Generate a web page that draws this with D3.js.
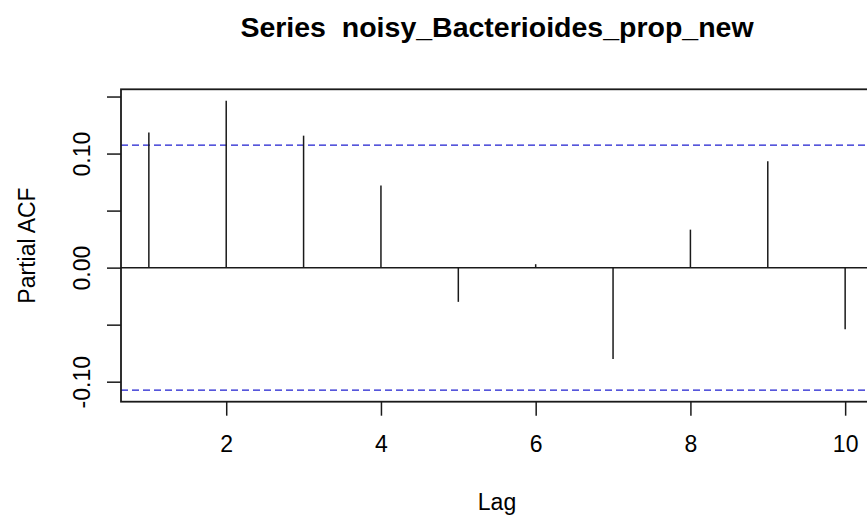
<!DOCTYPE html>
<html>
<head>
<meta charset="utf-8">
<script src="https://cdn.jsdelivr.net/npm/d3@7"></script>
<style>
  html, body { margin: 0; padding: 0; background: #fff; }
  svg { display: block; }
  text { font-family: "Liberation Sans", Arial, Helvetica, sans-serif; fill: #000; }
</style>
</head>
<body>
<svg id="chart" width="867" height="517"></svg>
<script>
// ---- data ----
const lags = [1, 2, 3, 4, 5, 6, 7, 8, 9, 10];
const pacfValues = [0.1185, 0.1462, 0.1157, 0.0720, -0.0300, 0.0030, -0.0802, 0.0333, 0.0933, -0.0540];
const ciLimit = 0.1074;
const xTickValues = [2, 4, 6, 8, 10];
const yTickValues = [-0.10, -0.05, 0.00, 0.05, 0.10, 0.15];
const yTickLabels = ["-0.10", "", "0.00", "", "0.10", ""];
const titleText = "Series  noisy_Bacterioides_prop_new";
const xLabel = "Lag";
const yLabel = "Partial ACF";

// ---- layout ----
const W = 867, H = 517;
const plot = { left: 121, right: 873, top: 89.3, bottom: 401.7 };

const svg = d3.select("#chart");

// domains extended by 4% like R
const xmin = d3.min(lags), xmax = d3.max(lags);
const xpad = (xmax - xmin) * 0.04;
const yAll = pacfValues.concat([ciLimit, -ciLimit]);
const ymin = d3.min(yAll), ymax = d3.max(yAll);
const ypad = (ymax - ymin) * 0.04;

const x = d3.scaleLinear().domain([xmin - xpad, xmax + xpad]).range([plot.left, plot.right]);
const y = d3.scaleLinear().domain([ymin - ypad, ymax + ypad]).range([plot.bottom, plot.top]);

const ink = "#1a1a1a";

// zero line
svg.append("line")
  .attr("x1", plot.left).attr("x2", plot.right)
  .attr("y1", y(0)).attr("y2", y(0))
  .attr("stroke", ink).attr("stroke-width", 1.5);

// confidence lines
[ciLimit, -ciLimit].forEach(v => {
  svg.append("line")
    .attr("x1", plot.left).attr("x2", plot.right)
    .attr("y1", y(v)).attr("y2", y(v))
    .attr("stroke", "#1f1fd0").attr("stroke-width", 1.4)
    .attr("stroke-dasharray", "7,4");
});

// spikes
svg.append("g").selectAll("line").data(lags).join("line")
  .attr("x1", d => x(d)).attr("x2", d => x(d))
  .attr("y1", y(0)).attr("y2", (d, i) => y(pacfValues[i]))
  .attr("stroke", ink).attr("stroke-width", 1.5);

// box
svg.append("rect")
  .attr("x", plot.left).attr("y", plot.top)
  .attr("width", plot.right - plot.left).attr("height", plot.bottom - plot.top)
  .attr("fill", "none").attr("stroke", ink).attr("stroke-width", 1.8);

// x axis
const xAxis = d3.axisBottom(x).tickValues(xTickValues).tickFormat(d3.format("d"))
  .tickSizeOuter(0).tickSizeInner(14).tickPadding(20);
const gx = svg.append("g").attr("transform", `translate(0,${plot.bottom})`).call(xAxis);
gx.select(".domain").remove();
gx.selectAll(".tick line").attr("stroke", ink).attr("stroke-width", 1.5);
gx.selectAll(".tick text").attr("font-size", 23).attr("fill", "#000");

// y axis
const yAxis = d3.axisLeft(y).tickValues(yTickValues).tickFormat((d, i) => yTickLabels[i])
  .tickSizeOuter(0).tickSizeInner(14);
const gy = svg.append("g").attr("transform", `translate(${plot.left},0)`).call(yAxis);
gy.select(".domain").remove();
gy.selectAll(".tick line").attr("stroke", ink).attr("stroke-width", 1.5);
gy.selectAll(".tick text")
  .attr("font-size", 23).attr("fill", "#000")
  .attr("text-anchor", "middle").attr("dy", null)
  .attr("x", null)
  .attr("transform", `translate(${90 - plot.left},0) rotate(-90)`);

// title
svg.append("text")
  .attr("x", (plot.left + plot.right) / 2).attr("y", 37)
  .attr("text-anchor", "middle").attr("font-size", 28.5).attr("font-weight", "bold")
  .style("white-space", "pre")
  .text(titleText);

// axis labels
svg.append("text")
  .attr("x", (plot.left + plot.right) / 2).attr("y", 510)
  .attr("text-anchor", "middle").attr("font-size", 23)
  .text(xLabel);

svg.append("text")
  .attr("transform", `translate(35,${(plot.top + plot.bottom) / 2}) rotate(-90)`)
  .attr("text-anchor", "middle").attr("font-size", 23)
  .text(yLabel);
</script>
</body>
</html>
